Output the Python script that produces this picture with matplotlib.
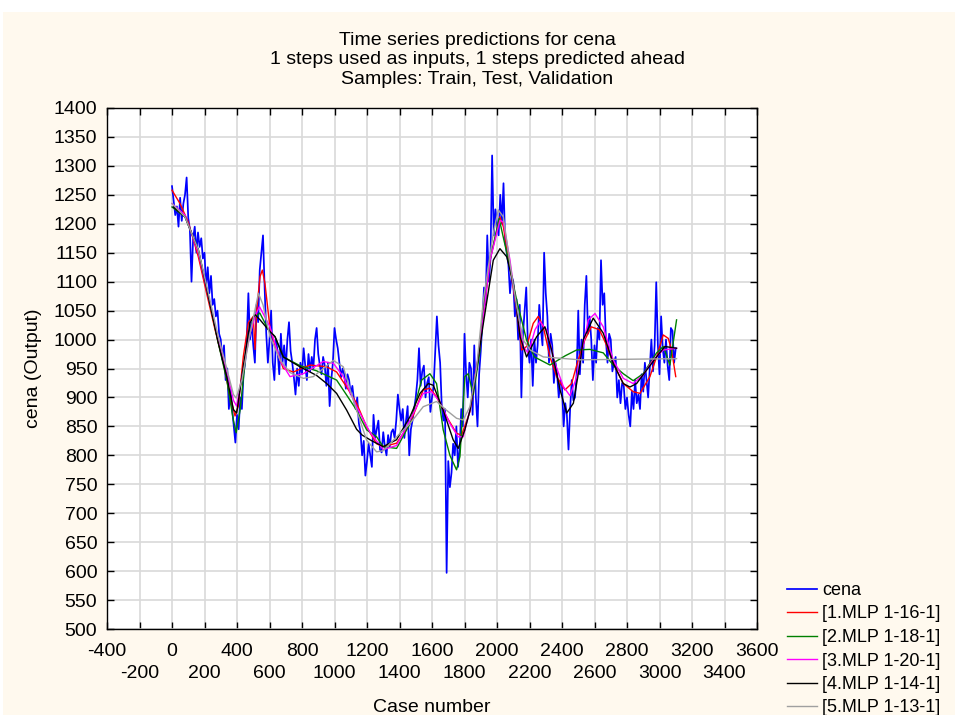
import numpy as np
import matplotlib
matplotlib.use("Agg")
import matplotlib.pyplot as plt
from matplotlib.patches import Rectangle

plt.rcParams['font.family'] = ['Liberation Sans', 'DejaVu Sans']

cena_case = np.arange(0, 3101, 10)
cena = [
    1265, 1240, 1215, 1230, 1195, 1245, 1205, 1235, 1250, 1280,
    1210, 1190, 1100, 1175, 1195, 1150, 1185, 1160, 1175, 1140,
    1150, 1090, 1125, 1080, 1110, 1060, 1070, 1040, 1050, 1010,
    1000, 965, 990, 930, 950, 880, 915, 880, 850, 822,
    870, 845, 900, 880, 940, 960, 1000, 1080, 1000, 1030,
    990, 960, 1060, 1030, 1120, 1150, 1180, 1090, 1010, 960,
    1000, 1050, 960, 930, 1000, 980, 940, 1010, 960, 990,
    950, 1000, 1030, 980, 960, 935, 905, 950, 920, 960,
    940, 985, 955, 930, 975, 945, 970, 950, 1000, 1020,
    975, 955, 940, 970, 955, 920, 960, 885, 930, 960,
    1020, 1000, 985, 960, 935, 950, 940, 915, 940, 930,
    905, 920, 895, 880, 900, 855, 840, 800, 825, 765,
    790, 820, 800, 780, 870, 830, 845, 860, 810, 805,
    840, 815, 800, 835, 815, 840, 845, 830, 860, 905,
    880, 860, 880, 830, 860, 885, 800, 845, 860, 880,
    900, 930, 985, 920, 945, 955, 900, 925, 935, 875,
    900, 920, 980, 1040, 990, 960, 885, 860, 880, 597,
    790, 745, 770, 820, 800, 850, 780, 810, 880, 850,
    1010, 940, 900, 960, 950, 870, 990, 900, 850, 940,
    980, 1030, 1090, 1060, 1180, 1100, 1140, 1318, 1180, 1225,
    1200, 1180, 1250, 1200, 1270, 1170, 1150, 1130, 1080, 1110,
    1100, 1040, 1070, 1000, 1060, 900, 1010, 1050, 1090, 990,
    960, 1000, 920, 1000, 960, 990, 1060, 1020, 990, 1150,
    1080, 1040, 960, 1010, 990, 925, 960, 940, 900, 930,
    920, 850, 890, 870, 810, 880, 930, 895, 900, 940,
    1050, 940, 1000, 960, 1060, 1110, 1010, 1040, 1000, 930,
    990, 960, 1020, 1000, 1137, 1060, 1080, 1000, 960, 1010,
    1000, 945, 960, 970, 900, 930, 890, 925, 920, 880,
    900, 870, 850, 910, 880, 930, 890, 905, 880, 940,
    910, 960, 930, 900, 950, 1000, 945, 990, 1099, 990,
    940, 1040, 985, 960, 1000, 955, 930, 1020, 1015, 960,
    985,
]

# network predictions (case number, value)
mlp_16 = [
    (0, 1258), (49, 1235), (100, 1203), (162, 1143), (213, 1080), (265, 1017), (316, 960),
    (357, 902), (388, 868), (408, 885), (439, 971), (470, 1029), (500, 1040), (511, 983),
    (521, 1051), (542, 1109), (556, 1120), (572, 1097), (603, 1020), (634, 990), (685, 950),
    (747, 944), (849, 956), (952, 953), (1013, 944), (1075, 918), (1136, 890), (1198, 849),
    (1259, 820), (1300, 815), (1382, 821), (1465, 855), (1546, 913), (1587, 916), (1628, 901),
    (1689, 867), (1751, 838), (1782, 835), (1833, 875), (1895, 990), (1957, 1137), (2018, 1212),
    (2039, 1195), (2080, 1126), (2121, 1051), (2152, 982), (2182, 988), (2223, 1028), (2254, 1040),
    (2285, 1022), (2326, 970), (2367, 936), (2418, 913), (2459, 924), (2500, 965), (2540, 999),
    (2580, 1022), (2630, 1017), (2670, 993), (2715, 959), (2777, 924), (2838, 910), (2880, 907),
    (2941, 936), (2982, 970), (3023, 1008), (3054, 1002), (3074, 982), (3100, 936),
]
mlp_18 = [
    (0, 1229), (80, 1212), (162, 1155), (224, 1074), (285, 994), (337, 930), (378, 860),
    (395, 839), (420, 880), (460, 990), (500, 1035), (540, 1046), (593, 1017), (634, 1005),
    (685, 970), (787, 955), (890, 946), (952, 938), (1013, 930), (1075, 904), (1136, 878),
    (1198, 844), (1259, 832), (1300, 815), (1382, 812), (1465, 855), (1536, 930), (1587, 941),
    (1628, 924), (1669, 844), (1710, 800), (1751, 775), (1772, 798), (1802, 936), (1823, 941),
    (1854, 905), (1895, 980), (1916, 1050), (1957, 1137), (2013, 1209), (2060, 1150), (2121, 1068),
    (2182, 999), (2230, 970), (2326, 956), (2420, 972), (2490, 982), (2572, 983), (2654, 977),
    (2715, 956), (2777, 941), (2838, 929), (2900, 941), (2982, 977), (3023, 988), (3064, 956),
    (3105, 1034),
]
mlp_20 = [
    (0, 1235), (80, 1215), (162, 1150), (224, 1074), (285, 1000), (337, 945), (378, 895),
    (398, 885), (439, 950), (480, 1010), (511, 1040), (538, 1057), (570, 1040), (603, 1022),
    (665, 964), (726, 936), (808, 941), (931, 962), (993, 959), (1054, 936), (1136, 884),
    (1218, 840), (1300, 810), (1382, 817), (1465, 861), (1546, 907), (1597, 910), (1648, 893),
    (1710, 855), (1761, 832), (1792, 832), (1833, 878), (1895, 990), (1957, 1137), (2018, 1206),
    (2039, 1203), (2080, 1137), (2121, 1051), (2162, 988), (2193, 976), (2234, 1017), (2264, 1031),
    (2305, 1017), (2357, 959), (2408, 919), (2449, 903), (2490, 935), (2530, 990), (2562, 1034),
    (2603, 1045), (2654, 1022), (2715, 965), (2777, 933), (2838, 924), (2900, 939), (2961, 965),
    (3023, 982), (3105, 985),
]
mlp_14 = [
    (8, 1229), (80, 1212), (162, 1155), (224, 1074), (285, 994), (337, 936), (378, 879),
    (398, 873), (439, 954), (480, 1029), (511, 1043), (542, 1034), (593, 1017), (634, 1005),
    (685, 970), (787, 953), (890, 938), (952, 924), (1013, 907), (1075, 878), (1136, 845),
    (1170, 835), (1230, 825), (1300, 815), (1382, 827), (1465, 867), (1526, 907), (1577, 924),
    (1608, 921), (1669, 878), (1730, 827), (1761, 812), (1802, 844), (1834, 878), (1874, 948),
    (1916, 1028), (1977, 1137), (2018, 1157), (2060, 1143), (2101, 1097), (2142, 1005), (2182, 970),
    (2244, 1005), (2295, 1022), (2336, 982), (2388, 913), (2429, 873), (2470, 890), (2511, 959),
    (2531, 1000), (2592, 1037), (2654, 1011), (2715, 959), (2777, 924), (2818, 918), (2859, 924),
    (2920, 947), (2982, 970), (3033, 988), (3105, 985),
]
mlp_13 = [
    (0, 1235), (80, 1212), (162, 1155), (224, 1080), (285, 1005), (337, 950), (378, 905),
    (395, 899), (430, 930), (480, 1010), (532, 1080), (560, 1060), (603, 1005), (665, 965),
    (726, 943), (808, 933), (870, 936), (931, 950), (993, 964), (1054, 953), (1116, 895),
    (1198, 826), (1259, 806), (1300, 808), (1382, 832), (1465, 855), (1546, 884), (1628, 893),
    (1689, 878), (1751, 864), (1792, 861), (1833, 884), (1874, 950), (1916, 1068), (1977, 1183),
    (2008, 1224), (2039, 1212), (2080, 1131), (2121, 1057), (2162, 999), (2203, 982), (2285, 970),
    (2511, 965), (3105, 967),
]

labels = ['cena', '[1.MLP 1-16-1]', '[2.MLP 1-18-1]', '[3.MLP 1-20-1]',
          '[4.MLP 1-14-1]', '[5.MLP 1-13-1]']
colors = ['#0000ff', '#ff0000', '#008000', '#ff00ff', '#000000', '#a0a0a0']
predictions = [mlp_16, mlp_18, mlp_20, mlp_14, mlp_13]

xticks_top = list(range(-400, 3601, 400))
xticks_low = list(range(-200, 3401, 400))
yticks = list(range(500, 1401, 50))

bg = '#fff9ee'
fig = plt.figure(figsize=(9.55, 7.15), dpi=100)
fig.patch.set_facecolor('white')
fig.patches.append(Rectangle((3 / 955, 0), 1, 1 - 12 / 715, transform=fig.transFigure,
                             facecolor=bg, edgecolor='none', zorder=-10))

ax = fig.add_axes([107 / 955, 1 - 629 / 715, 650 / 955, 521 / 715])
ax.set_facecolor('white')

handles = []
h, = ax.plot(cena_case, cena, color=colors[0], lw=1.25)
handles.append(h)
for data, col in zip(predictions, colors[1:]):
    arr = np.array(data, dtype=float)
    h, = ax.plot(arr[:, 0], arr[:, 1], color=col, lw=1.0)
    handles.append(h)

ax.set_xlim(-400, 3600)
ax.set_ylim(500, 1400)
ax.set_xticks(xticks_top)
ax.set_xticklabels([str(t) for t in xticks_top])
ax.set_xticks(xticks_low, minor=True)
ax.set_xticklabels([str(t) for t in xticks_low], minor=True)
ax.set_yticks(yticks)
ax.grid(True, which='both', color='#d9d9d9', lw=1.2)
ax.set_axisbelow(True)
ax.tick_params(which='both', direction='in', top=True, right=True, length=5, width=1,
               labelsize=14)
ax.tick_params(axis='x', which='major', pad=10)
ax.tick_params(axis='x', which='minor', pad=26)
ax.tick_params(axis='y', pad=7)
for s in ax.spines.values():
    s.set_linewidth(1)

fig.text(0.5, 1 - 60 / 715,
         'Time series predictions for cena\n1 steps used as inputs, 1 steps predicted ahead\n'
         'Samples: Train, Test, Validation',
         ha='center', va='center', fontsize=14, linespacing=1.2)
fig.text(33 / 955, 1 - 368 / 715, 'cena (Output)', rotation=90, ha='center', va='center',
         fontsize=14)
fig.text(432 / 955, 1 - 708 / 715, 'Case number', ha='center', va='center', fontsize=14)

fig.legend(handles=handles, labels=labels, loc='upper left',
           bbox_to_anchor=(787 / 955, 1 - 582 / 715), frameon=False, fontsize=13,
           borderpad=0, borderaxespad=0, handlelength=1.66, handletextpad=0.3,
           labelspacing=0.36)

fig.savefig('out.png', dpi=100, facecolor=fig.get_facecolor())
